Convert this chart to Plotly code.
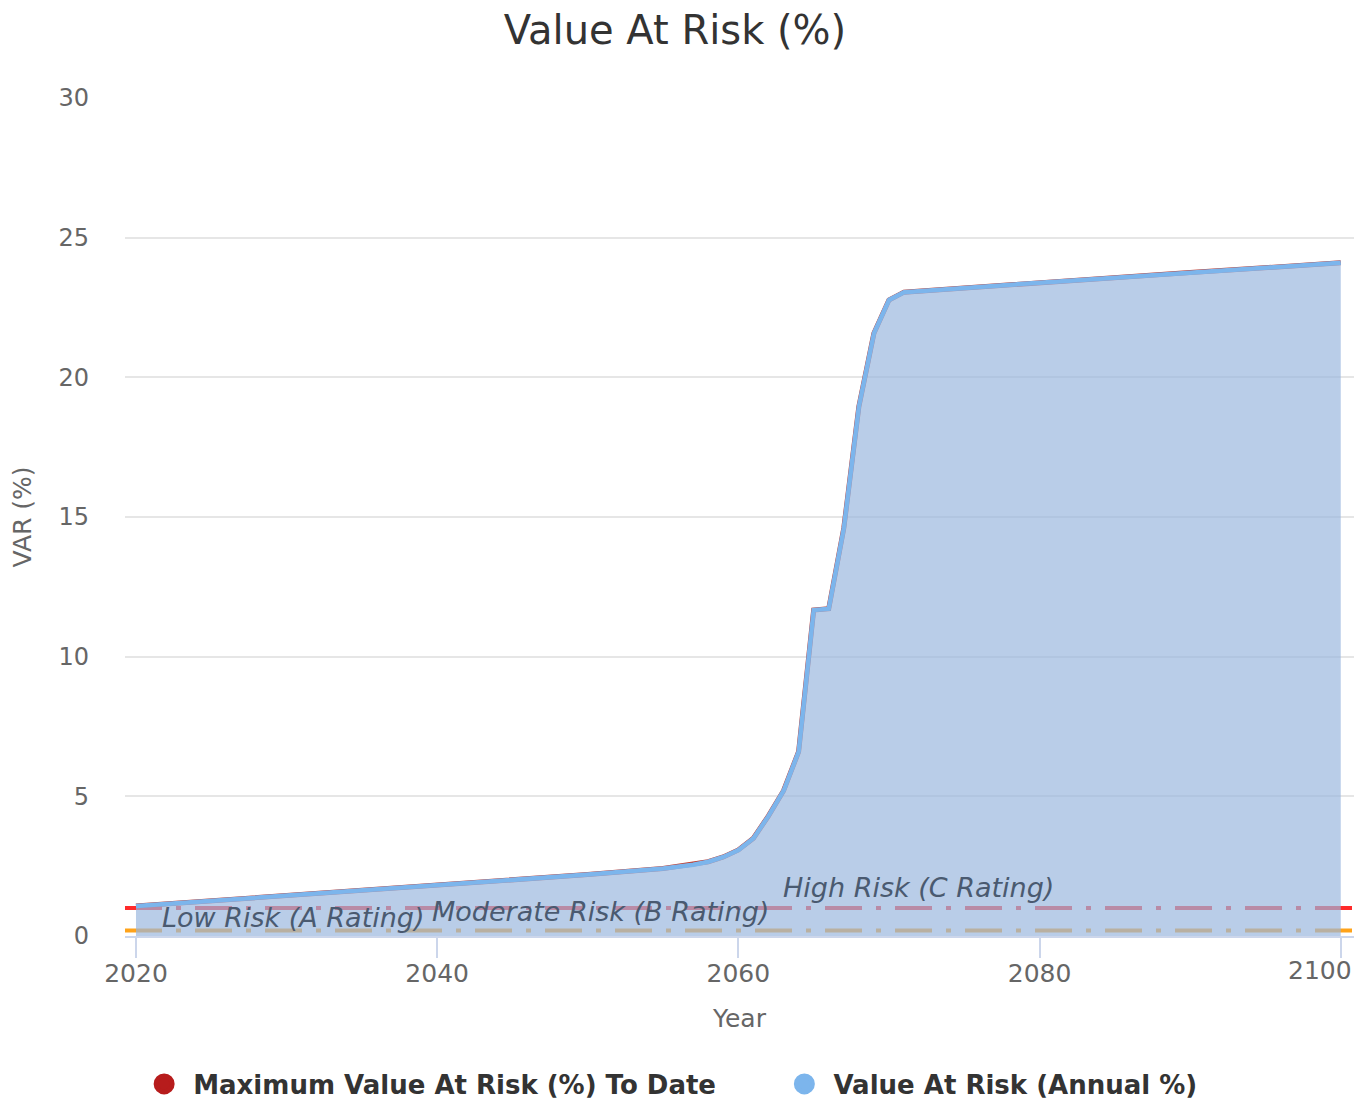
import numpy as np
import plotly.graph_objects as go

# ---- data ----
years = [2020, 2040, 2050, 2055, 2057, 2058, 2059, 2060, 2061, 2062, 2063, 2064,
         2065, 2066, 2067, 2068, 2069, 2070, 2071, 2080, 2090, 2100]
var_annual = [1.07, 1.80, 2.20, 2.42, 2.55, 2.66, 2.83, 3.08, 3.50, 4.30, 5.20, 6.60,
              11.67, 11.72, 14.6, 18.95, 21.58, 22.77, 23.05, 23.39, 23.75, 24.10]
var_max_to_date = list(np.maximum.accumulate(var_annual))

risk_levels = [0.2, 1.0]
risk_colors = ["#ffa31a", "#ff2a2a"]
risk_labels = ["Low Risk (A Rating)", "Moderate Risk (B Rating)", "High Risk (C Rating)"]
label_x = [2021.6, 2039.5, 2062.8]
label_y = [0.68, 0.86, 1.75]

x_ticks = [2020, 2040, 2060, 2080, 2100]
y_ticks = [0, 5, 10, 15, 20, 25, 30]

FONT = "DejaVu Sans"
W, H = 1354, 1094
NB = "\u00a0"

fig = go.Figure()

# risk plot lines (below the series)
for lvl, col in zip(risk_levels, risk_colors):
    fig.add_shape(type="line", xref="paper", yref="y", x0=0, x1=1, y0=lvl, y1=lvl,
                  line=dict(color=col, width=4, dash="37px,14px,5px,14px"), layer="below")

fig.add_trace(go.Scatter(x=years, y=var_max_to_date, mode="lines",
                         line=dict(color="#c0392b", width=5), showlegend=False,
                         hoverinfo="skip"))
fig.add_trace(go.Scatter(x=years, y=var_annual, mode="lines", fill="tozeroy",
                         fillcolor="rgba(153,182,221,0.69)",
                         line=dict(color="#7cb5ec", width=4.5), showlegend=False))

# legend entries
fig.add_trace(go.Scatter(x=[None], y=[None], mode="markers",
                         name=NB + "Maximum Value At Risk (%) To Date" + NB * 7,
                         marker=dict(symbol="circle", size=16, color="#b71c1c",
                                     line=dict(color="#b71c1c", width=10))))
fig.add_trace(go.Scatter(x=[None], y=[None], mode="markers",
                         name=NB + "Value At Risk (Annual %)",
                         marker=dict(symbol="circle", size=16, color="#7cb5ec",
                                     line=dict(color="#7cb5ec", width=10))))

for t, xx, yy in zip(risk_labels, label_x, label_y):
    fig.add_annotation(x=xx, y=yy, xref="x", yref="y", text="<i>" + t + "</i>",
                       showarrow=False, xanchor="left", yanchor="middle",
                       font=dict(family=FONT, size=27, color="#4a5a70"))

# last x tick label shifted left like the reference
fig.add_annotation(x=x_ticks[-1], y=0, xref="x", yref="paper", text=str(x_ticks[-1]),
                   showarrow=False, xanchor="center", yanchor="top", xshift=-21, yshift=-18,
                   font=dict(family=FONT, size=25, color="#666666"))

fig.update_layout(
    width=W, height=H,
    margin=dict(l=117, r=8, t=90, b=166, autoexpand=False),
    paper_bgcolor="white", plot_bgcolor="white",
    title=dict(text="Value At Risk (%)", x=667 / W, xref="container", xanchor="center",
               y=1 - 22 / H, yref="container", yanchor="middle",
               font=dict(family=FONT, size=40, color="#333333")),
    showlegend=True,
    legend=dict(orientation="h", x=0.446, xanchor="center", y=-0.1766, yanchor="middle",
                font=dict(family=FONT, size=26, color="#333333", weight="bold"),
                itemsizing="trace", bgcolor="rgba(0,0,0,0)"),
    xaxis=dict(range=[2019.27, 2100.88], tickvals=x_ticks,
               ticktext=[str(v) for v in x_ticks[:-1]] + [""],
               ticks="outside", ticklen=20, tickwidth=2, tickcolor="#ccd6eb",
               showline=True, linecolor="#ccd6eb", linewidth=2, showgrid=False,
               zeroline=False, automargin=False, ticklabelstandoff=-6,
               tickfont=dict(family=FONT, size=25, color="#666666"),
               title=dict(text="Year", standoff=22,
                          font=dict(family=FONT, size=25, color="#666666"))),
    yaxis=dict(range=[0, 30], tickvals=y_ticks, showgrid=True, gridcolor="#e6e6e6",
               gridwidth=2, zeroline=False, showline=False, ticks="",
               ticklabelstandoff=35, automargin=False,
               tickfont=dict(family=FONT, size=24, color="#666666"),
               title=dict(text="VAR (%)", standoff=22,
                          font=dict(family=FONT, size=25, color="#666666"))),
)

fig.write_html("out.html")
